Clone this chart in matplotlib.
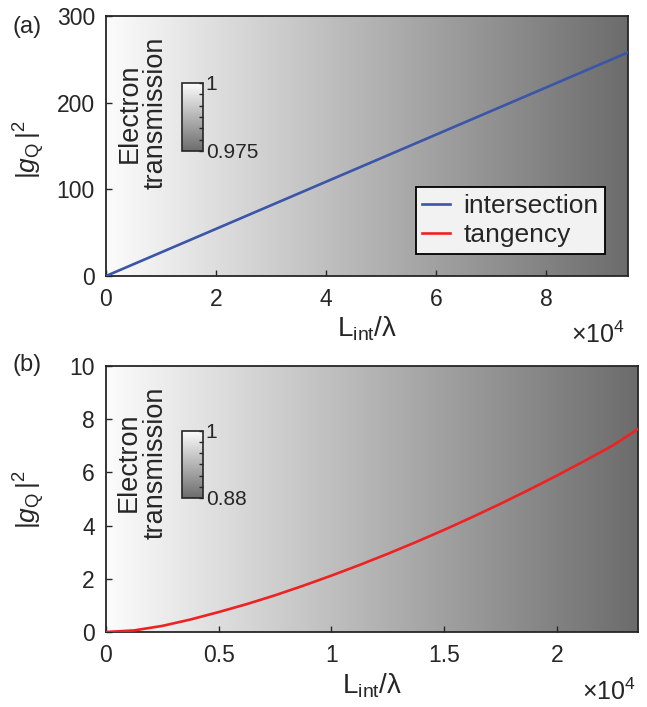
import numpy as np
import matplotlib
matplotlib.use('Agg')
import matplotlib.pyplot as plt
from matplotlib.colors import LinearSegmentedColormap

plt.rcParams['font.family'] = ['Liberation Sans', 'DejaVu Sans']
plt.rcParams['mathtext.fontset'] = 'custom'
plt.rcParams['mathtext.rm'] = 'Liberation Sans'
plt.rcParams['mathtext.it'] = 'Liberation Sans:italic'

# panel (a): intersection, x in units of 1e4
xa = [0.0, 9.49]
ya = [0.0, 258.0]
trans_a = [1.0, 0.975]

# panel (b): tangency, x in units of 1e4
xb = [0, 0.125, 0.25, 0.375, 0.5, 0.625, 0.75, 0.875, 1.0, 1.125, 1.25, 1.375,
      1.5, 1.625, 1.75, 1.875, 2.0, 2.125, 2.25, 2.36]
yb = [0, 0.06, 0.23, 0.47, 0.75, 1.05, 1.38, 1.74, 2.12, 2.52, 2.94, 3.38,
      3.84, 4.32, 4.82, 5.34, 5.88, 6.44, 7.02, 7.63]
trans_b = [1.0, 0.88]

xticks_a = [0, 2, 4, 6, 8]
yticks_a = [0, 100, 200, 300]
xticks_b = [0, 0.5, 1, 1.5, 2]
xticklabels_b = ['0', '0.5', '1', '1.5', '2']
yticks_b = [0, 2, 4, 6, 8, 10]

txt = '#262626'
cmap = LinearSegmentedColormap.from_list('tr', ['#6c6c6c', '#fcfcfc'])

fig = plt.figure(figsize=(6.47, 7.07), dpi=100)
ax1 = fig.add_axes([106/647, 1-276/707, 522/647, 260/707])
ax2 = fig.add_axes([106/647, 1-632/707, 532/647, 266/707])


def panel(ax, xmax, ymax, trans, cb_rect, et_pos):
    grad = np.linspace(trans[0], trans[1], 256).reshape(1, -1)
    im = ax.imshow(grad, extent=[0, xmax, 0, ymax], aspect='auto', cmap=cmap,
                   vmin=trans[1], vmax=trans[0], origin='lower', zorder=0)
    ax.set_xlim(0, xmax)
    ax.set_ylim(0, ymax)
    ax.tick_params(direction='in', labelsize=16.5, colors=txt, length=4, width=1,
                   top=False, right=False)
    ax.tick_params(axis='x', pad=9)
    ax.tick_params(axis='y', pad=8)
    for s in ax.spines.values():
        s.set_color(txt)
        s.set_linewidth(1.3)
    ax.set_ylabel(r'$|\mathit{g}_{\mathrm{Q}}\,|^2$', fontsize=19, color=txt)
    ax.set_xlabel('L$_{\\mathrm{int}}$/λ', fontsize=20, color=txt)
    ax.xaxis.set_label_coords(0.5, -0.148)
    ax.text(et_pos[0], et_pos[1], 'Electron\ntransmission', transform=ax.transAxes,
            rotation=90, ha='center', va='center', fontsize=19.5, color=txt,
            linespacing=1.0)
    cax = ax.inset_axes(cb_rect)
    cb = fig.colorbar(im, cax=cax, orientation='vertical')
    cb.set_ticks(np.linspace(trans[1], trans[0], 7))
    cb.set_ticklabels([f'{trans[1]:g}'] + [''] * 5 + [f'{trans[0]:g}'])
    cax.tick_params(direction='in', length=3, width=1, labelsize=15, colors=txt, pad=2)
    cb.outline.set_edgecolor(txt)
    cb.outline.set_linewidth(1.2)
    return ax


panel(ax1, xa[-1], 300, trans_a, [0.1456, 0.481, 0.040, 0.2615], (0.07, 0.627))
ax1.plot(xa, ya, color='#3b55a8', lw=1.9, label='intersection', zorder=3)
ax1.plot([], [], color='#ee2222', lw=1.9, label='tangency')
ax1.set_xticks(xticks_a)
ax1.set_yticks(yticks_a)
ax1.yaxis.set_label_coords(-0.113, 0.485)
leg = ax1.legend(loc='lower right', bbox_to_anchor=(0.956, 0.085), fontsize=19,
                 frameon=True, fancybox=False, handlelength=1.05, handletextpad=0.5,
                 borderpad=0.25, labelspacing=0.2, borderaxespad=0)
leg.get_frame().set_facecolor('#f2f2f2')
leg.get_frame().set_edgecolor('black')
leg.get_frame().set_linewidth(1.3)
leg.get_frame().set_alpha(1)
for t in leg.get_texts():
    t.set_color(txt)

panel(ax2, xb[-1], 10, trans_b, [0.1429, 0.504, 0.0395, 0.252], (0.068, 0.637))
ax2.plot(xb, yb, color='#ee2222', lw=1.9, zorder=3)
ax2.set_xticks(xticks_b)
ax2.set_xticklabels(xticklabels_b)
ax2.set_yticks(yticks_b)
ax2.yaxis.set_label_coords(-0.111, 0.496)

fig.text(625/647, 1-343/707, r'$\times10^4$', ha='right', va='baseline', fontsize=18, color=txt)
fig.text(636/647, 1-700/707, r'$\times10^4$', ha='right', va='baseline', fontsize=18, color=txt)
fig.text(12/647, 1-27/707, '(a)', fontsize=17, color=txt, va='center')
fig.text(12/647, 1-365/707, '(b)', fontsize=17, color=txt, va='center')

fig.savefig('out.png', dpi=100)
